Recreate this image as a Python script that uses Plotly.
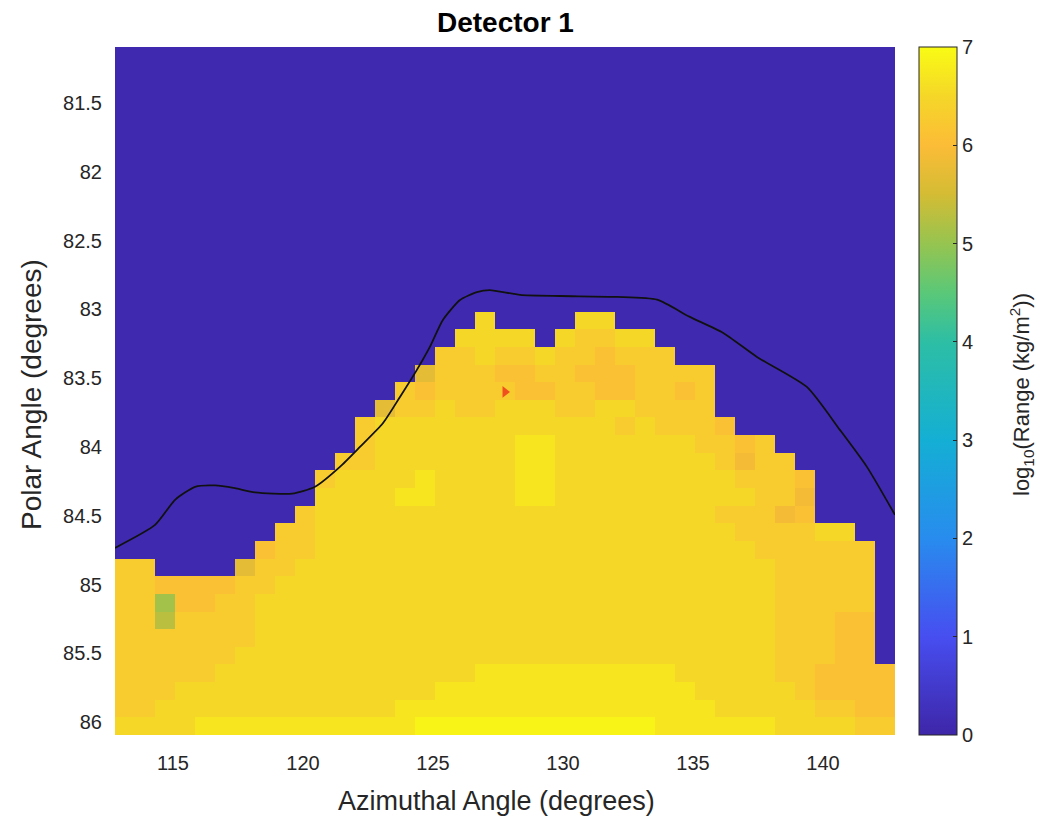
import numpy as np
import plotly.graph_objects as go

# ---------------- data ----------------
# Grid of 39 x 39 cells (azimuth columns, polar rows)
n_cols = 39
n_rows = 39
az_min, az_max = 112.77, 142.77
pol_min, pol_max = 81.093, 86.094
azimuth = np.linspace(az_min + (az_max - az_min) / n_cols / 2, az_max - (az_max - az_min) / n_cols / 2, n_cols)
polar = np.linspace(pol_min + (pol_max - pol_min) / n_rows / 2, pol_max - (pol_max - pol_min) / n_rows / 2, n_rows)

# Cell codes: '.' = background (~0.1), digit d = 5.1 + 0.2*d
blank = "." * 39
cell_rows = [
    blank, blank, blank, blank, blank, blank, blank, blank, blank, blank,
    blank, blank, blank, blank, blank,
    "." * 18 + "7" + "." * 4 + "77" + "." * 14,                        # 15
    "." * 17 + "7777" + "." + "76677" + "." * 12,                        # 16
    "." * 16 + "667667665666" + "." * 11,                                # 17
    "." * 15 + "366655665556666" + "." * 9,                              # 18
    "." * 14 + "6566665566556656" + "." * 9,                             # 19
    "." * 13 + "36676677766776666" + "." * 9,                            # 20
    "." * 12 + "6777777777777676665" + "." * 8,                          # 21
    "." * 12 + "677777778877777776656" + "." * 6,                        # 22
    "." * 11 + "66777777788777777776466" + "." * 5,                      # 23
    "." * 10 + "6777787777887777777776665" + "." * 4,                    # 24
    "." * 10 + "7777887777887777777777664" + "." * 4,                    # 25
    "." * 9 + "6" + "7" * 20 + "66645" + "." * 4,                        # 26
    "." * 8 + "66" + "7" * 21 + "666677" + "." * 2,                      # 27
    "." * 7 + "566" + "7" * 22 + "666666" + ".",                         # 28
    "66" + "." * 4 + "3667" + "7" * 23 + "66666" + ".",                  # 29
    "6655556677" + "7" * 23 + "66666" + ".",                             # 30
    "6605566777" + "7" * 23 + "66666" + ".",                             # 31
    "6616666777" + "7" * 23 + "66655" + ".",                             # 32
    "6666666777" + "7" * 23 + "66655" + ".",                             # 33
    "6666667777" + "7" * 23 + "66655" + ".",                             # 34
    "6666677777" + "7" * 8 + "8" * 10 + "7" * 5 + "665555",              # 35
    "6667777777" + "7" * 6 + "8" * 13 + "7" * 4 + "765555",              # 36
    "6677777777" + "7" * 4 + "8" * 16 + "7" * 3 + "776655",              # 37
    "7777888888" + "8" * 5 + "9" * 12 + "8" * 6 + "777766",              # 38
]
background_value = 0.1
digit_base, digit_step = 5.1, 0.2

z = [[background_value if ch == "." else digit_base + digit_step * int(ch) for ch in row] for row in cell_rows]

# Boundary curve (black line)
curve_az = [112.77, 114.31, 115.08, 115.85, 116.62, 117.38, 118.15, 119.58, 120.46, 121.42,
            122.19, 123.08, 123.73, 124.38, 124.88, 125.38, 126.04, 126.69, 127.19, 128.35,
            129.88, 132.08, 133.62, 134.88, 136.15, 137.46, 139.38, 140.65, 141.69, 142.77]
curve_pol = [84.734, 84.567, 84.385, 84.29, 84.28, 84.30, 84.33, 84.34, 84.29, 84.145,
             84.0, 83.826, 83.637, 83.44, 83.273, 83.077, 82.932, 82.874, 82.86, 82.895,
             82.903, 82.91, 82.93, 83.055, 83.17, 83.346, 83.564, 83.876, 84.145, 84.494]

# Red marker
marker_az = [127.77]
marker_pol = [83.60]

x_ticks = [115, 120, 125, 130, 135, 140]
y_ticks = [81.5, 82, 82.5, 83, 83.5, 84, 84.5, 85, 85.5, 86]
y_tick_text = ["81.5", "82", "82.5", "83", "83.5", "84", "84.5", "85", "85.5", "86"]
cbar_ticks = [0, 1, 2, 3, 4, 5, 6, 7]

parula = [
    [0.000, "rgb(62,38,168)"],
    [0.143, "rgb(71,78,240)"],
    [0.286, "rgb(40,140,238)"],
    [0.429, "rgb(20,175,212)"],
    [0.571, "rgb(45,190,165)"],
    [0.643, "rgb(90,200,120)"],
    [0.714, "rgb(150,196,80)"],
    [0.786, "rgb(212,188,52)"],
    [0.857, "rgb(252,188,55)"],
    [0.929, "rgb(245,215,40)"],
    [1.000, "rgb(249,251,20)"],
]

font_family = "Liberation Sans, Arial, Helvetica, sans-serif"
gray = "#262626"

# plot area in pixels: x 115..895, y 47..735
def px_x(p):
    return (p - 115) / 780

def px_y(p):
    return (735 - p) / 688

fig = go.Figure()
fig.add_trace(go.Heatmap(
    x=azimuth, y=polar, z=z, zmin=0, zmax=7, colorscale=parula, zsmooth=False,
    colorbar=dict(
        x=px_x(919), xanchor="left", xref="paper",
        y=0.5, yanchor="middle", len=1.0, lenmode="fraction",
        thickness=38, thicknessmode="pixels",
        outlinewidth=1, outlinecolor=gray,
        tickvals=cbar_ticks, ticks="inside", ticklen=4, tickcolor=gray,
        tickfont=dict(family=font_family, size=20, color=gray),
        ypad=0, xpad=0,
    ),
    hoverinfo="skip",
))
fig.add_trace(go.Scatter(
    x=curve_az, y=curve_pol, mode="lines",
    line=dict(color="#111111", width=1.8, shape="spline", smoothing=0.6),
    showlegend=False, hoverinfo="skip",
))
fig.add_trace(go.Scatter(
    x=marker_az, y=marker_pol, mode="markers",
    marker=dict(color="#F0501E", size=10, symbol="triangle-right"),
    showlegend=False, hoverinfo="skip",
))

fig.update_layout(
    width=1039, height=824,
    margin=dict(l=115, r=144, t=47, b=89),
    paper_bgcolor="white", plot_bgcolor="white",
    font=dict(family=font_family, color=gray),
    showlegend=False,
    xaxis=dict(range=[az_min, az_max], tickvals=x_ticks, ticks="", showgrid=False, zeroline=False,
               tickfont=dict(size=20, color=gray), ticklabelstandoff=14, showline=False),
    yaxis=dict(range=[pol_max, pol_min], tickvals=y_ticks, ticktext=y_tick_text, ticks="", showgrid=False,
               zeroline=False, tickfont=dict(size=20, color=gray), ticklabelstandoff=12, showline=False),
    annotations=[
        dict(text="<b>Detector 1</b>", x=px_x(505), y=px_y(22), xref="paper", yref="paper",
             xanchor="center", yanchor="middle", showarrow=False,
             font=dict(family=font_family, size=28, color="black")),
        dict(text="Azimuthal Angle (degrees)", x=px_x(496), y=px_y(801), xref="paper", yref="paper",
             xanchor="center", yanchor="middle", showarrow=False,
             font=dict(family=font_family, size=27, color=gray)),
        dict(text="Polar Angle (degrees)", textangle=-90, x=px_x(31), y=px_y(395), xref="paper", yref="paper",
             xanchor="center", yanchor="middle", showarrow=False,
             font=dict(family=font_family, size=28, color=gray)),
        dict(text="log<sub>10</sub>(Range (kg/m<sup>2</sup>))", textangle=-90,
             x=px_x(1021), y=px_y(395), xref="paper", yref="paper",
             xanchor="center", yanchor="middle", showarrow=False,
             font=dict(family=font_family, size=22, color=gray)),
    ],
)

fig.write_html("out.html")
